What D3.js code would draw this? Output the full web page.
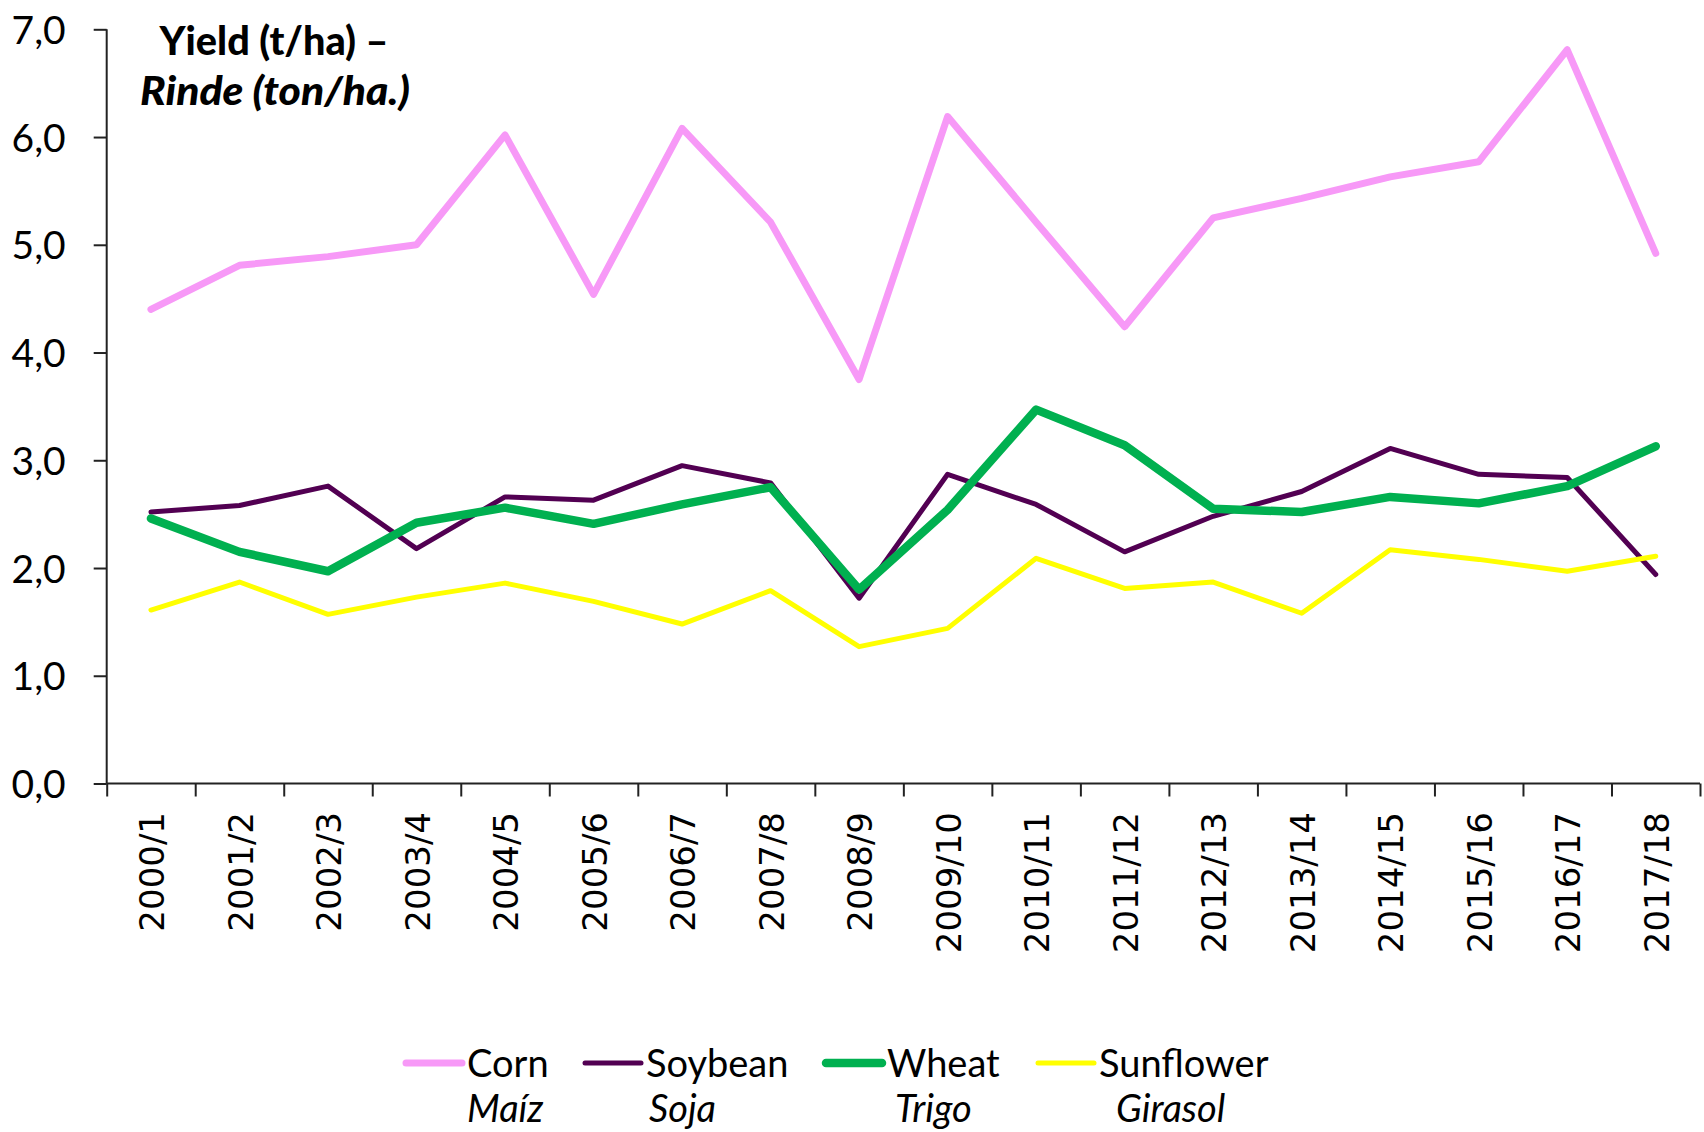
<!DOCTYPE html>
<html>
<head>
<meta charset="utf-8">
<script src="https://cdn.jsdelivr.net/npm/d3@7"></script>
<style>
  body { margin: 0; background: #fff; }
  svg text { font-family: Lato, "Open Sans", sans-serif; fill: #000; }
</style>
</head>
<body>
<svg id="chart" width="1704" height="1132"></svg>
<script>
// seasons on the x axis
var seasons = ['2000/1', '2001/2', '2002/3', '2003/4', '2004/5', '2005/6', '2006/7', '2007/8', '2008/9',
  '2009/10', '2010/11', '2011/12', '2012/13', '2013/14', '2014/15', '2015/16', '2016/17', '2017/18'];

// yields, t/ha
var corn      = [4.40, 4.81, 4.89, 5.00, 6.02, 4.54, 6.08, 5.21, 3.75, 6.19, 5.21, 4.24, 5.25, 5.43, 5.63, 5.77, 6.81, 4.92];
var soybean   = [2.52, 2.58, 2.76, 2.18, 2.66, 2.63, 2.95, 2.79, 1.72, 2.87, 2.59, 2.15, 2.48, 2.71, 3.11, 2.87, 2.84, 1.94];
var wheat     = [2.46, 2.15, 1.97, 2.42, 2.56, 2.41, 2.59, 2.75, 1.80, 2.54, 3.47, 3.14, 2.55, 2.52, 2.66, 2.60, 2.76, 3.13];
var sunflower = [1.61, 1.87, 1.57, 1.73, 1.86, 1.69, 1.48, 1.79, 1.27, 1.44, 2.09, 1.81, 1.87, 1.58, 2.17, 2.08, 1.97, 2.11];

var yTicks = [0, 1, 2, 3, 4, 5, 6, 7];
var names   = ['Corn', 'Soybean', 'Wheat', 'Sunflower'];
var namesEs = ['Maíz', 'Soja', 'Trigo', 'Girasol'];

var series = [
  { name: names[0], es: namesEs[0], values: corn,      color: '#f799f7', width: 7 },
  { name: names[1], es: namesEs[1], values: soybean,   color: '#520052', width: 5 },
  { name: names[2], es: namesEs[2], values: wheat,     color: '#00b050', width: 8.5 },
  { name: names[3], es: namesEs[3], values: sunflower, color: '#ffff00', width: 5 }
];

var plotL = 106.7, plotR = 1700, plotT = 29.3, plotB = 783.5;
var svg = d3.select('#chart');

var x = d3.scaleBand().domain(seasons).range([plotL, plotR]);
var xi = d3.scaleLinear().domain([0, seasons.length]).range([plotL, plotR]);
var y = d3.scaleLinear().domain([0, 7]).range([plotB, plotT]);

// y axis
var yAxis = svg.append('g')
  .attr('transform', 'translate(' + plotL + ',0)')
  .call(d3.axisLeft(y).tickValues(yTicks).tickSize(13).tickPadding(28)
    .tickFormat(function(d) { return d3.format('.1f')(d).replace('.', ','); }));
yAxis.select('.domain').attr('stroke', '#222').attr('stroke-width', 2).attr('d', 'M0,' + plotB + 'V' + plotT);
yAxis.selectAll('.tick line').attr('stroke', '#222').attr('stroke-width', 2);
yAxis.selectAll('.tick text')
  .style('font-family', 'Lato, sans-serif')
  .style('font-size', '39px')
  .attr('dy', '0.36em');

// x axis: ticks on the band boundaries
var xAxis = svg.append('g')
  .attr('transform', 'translate(0,' + plotB + ')')
  .call(d3.axisBottom(xi).tickValues(d3.range(seasons.length + 1)).tickSize(13).tickFormat(''));
xAxis.select('.domain').attr('stroke', '#222').attr('stroke-width', 2).attr('d', 'M' + plotL + ',0H' + plotR);
xAxis.selectAll('.tick line').attr('stroke', '#222').attr('stroke-width', 2);

svg.append('g').selectAll('text')
  .data(seasons)
  .enter().append('text')
  .attr('transform', function(d) { return 'translate(' + (x(d) + x.bandwidth() / 2 + 1) + ',812) rotate(-90)'; })
  .attr('text-anchor', 'end')
  .attr('dy', '0.36em')
  .style('font-family', '"DejaVu Sans", sans-serif')
  .style('font-size', '34px')
  .text(function(d) { return d; });

// lines
var line = d3.line()
  .x(function(d, i) { return x(seasons[i]) + x.bandwidth() / 2; })
  .y(function(d) { return y(d); });

svg.append('g').selectAll('path')
  .data(series)
  .enter().append('path')
  .attr('d', function(d) { return line(d.values); })
  .attr('fill', 'none')
  .attr('stroke', function(d) { return d.color; })
  .attr('stroke-width', function(d) { return d.width; })
  .attr('stroke-linejoin', 'round')
  .attr('stroke-linecap', 'round');

// title
var title = svg.append('g');
title.append('text')
  .attr('x', 274).attr('y', 55)
  .attr('text-anchor', 'middle')
  .style('font-weight', '900')
  .style('font-size', '40px')
  .attr('textLength', 229)
  .attr('lengthAdjust', 'spacingAndGlyphs')
  .text('Yield (t/ha) –');
title.append('text')
  .attr('x', 275).attr('y', 105)
  .attr('text-anchor', 'middle')
  .style('font-weight', '900')
  .style('font-style', 'italic')
  .style('font-size', '40px')
  .attr('textLength', 270)
  .attr('lengthAdjust', 'spacingAndGlyphs')
  .text('Rinde (ton/ha.)');

// legend
var legX = [406, 585, 826, 1038];
var subDx = [0, 3, 8, 17];
var leg = svg.append('g').selectAll('g')
  .data(series)
  .enter().append('g')
  .attr('transform', function(d, i) { return 'translate(' + legX[i] + ',0)'; });
leg.append('line')
  .attr('x1', 0).attr('x2', 56)
  .attr('y1', 1063).attr('y2', 1063)
  .attr('stroke', function(d) { return d.color; })
  .attr('stroke-width', function(d) { return d.width; })
  .attr('stroke-linecap', 'round');
leg.append('text')
  .attr('x', 61).attr('y', 1077)
  .style('font-size', '38px')
  .text(function(d) { return d.name; });
leg.append('text')
  .attr('x', function(d, i) { return 61 + subDx[i]; }).attr('y', 1122)
  .style('font-size', '38px')
  .style('font-style', 'italic')
  .text(function(d) { return d.es; });
</script>
</body>
</html>
